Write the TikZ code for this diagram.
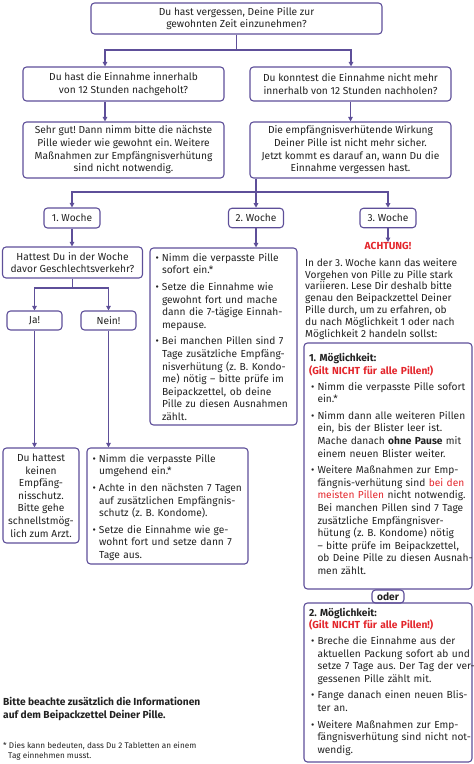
\documentclass[tikz,border=0pt]{standalone}
\usepackage{fontspec}
\setmainfont{Fira Sans}
\usetikzlibrary{arrows.meta,calc}
\definecolor{vio}{HTML}{5E4F99}
\definecolor{achred}{HTML}{E3262C}
\definecolor{txt}{HTML}{222222}
\newlength\bulind
\newcommand\bul[2][3pt]{\par\vspace{#1}\noindent\hspace*{\bulind}\makebox[6.5pt][l]{\textbullet}\begin{tabular}[t]{@{}l@{}}#2\end{tabular}\par}
\newcommand\rd[1]{\textcolor{achred}{#1}}
\frenchspacing
\begin{document}
\begin{tikzpicture}[x=1pt,y=-1pt,
  every node/.style={text=txt,font=\fontsize{10.2}{12.6}\selectfont\frenchspacing},
  box/.style={draw=vio,line width=1.1pt,rounded corners=3.5pt,inner sep=0pt,align=center},
  bbox/.style={box,align=left,inner xsep=5.5pt,inner ysep=0pt},
  conn/.style={draw=vio,line width=1.1pt,-{Triangle[length=4.5pt,width=4.5pt]}}]
\useasboundingbox (0,0) rectangle (474,764);

\node[box,minimum width=291,minimum height=31] (top) at (236.5,18.5) {Du hast vergessen, Deine Pille zur\\gewohnten Zeit einzunehmen?};
\node[box,minimum width=201,minimum height=34] (L2) at (123.5,84) {Du hast die Einnahme innerhalb\\von 12 Stunden nachgeholt?};
\node[box,minimum width=201,minimum height=34] (R2) at (350.5,84) {Du konntest die Einnahme nicht mehr\\innerhalb von 12 Stunden nachholen?};
\node[box,minimum width=201,minimum height=56] (L3) at (123.5,150) {Sehr gut! Dann nimm bitte die nächste\\Pille wieder wie gewohnt ein. Weitere\\Maßnahmen zur Empfängnisverhütung\\sind nicht notwendig.};
\node[box,minimum width=201,minimum height=56] (R3) at (350.5,150) {Die empfängnisverhütende Wirkung\\Deiner Pille ist nicht mehr sicher.\\Jetzt kommt es darauf an, wann Du die\\Einnahme vergessen hast.};

\node[box,minimum width=56,minimum height=20] (w1) at (72,218) {1. Woche};
\node[box,minimum width=55,minimum height=19.5] (w2) at (256,218) {2. Woche};
\node[box,minimum width=56,minimum height=19.5] (w3) at (388,218) {3. Woche};

\node[box,minimum width=140,minimum height=31] (hat) at (72.5,262.5) {Hattest Du in der Woche\\davor Geschlechtsverkehr?};
\node[box,minimum width=55,minimum height=19] (ja) at (34.5,320.5) {Ja!};
\node[box,minimum width=55,minimum height=19] (nein) at (108.5,320.5) {Nein!};

\node[box,minimum width=76,minimum height=95] (du) at (41,495.5) {Du hattest\\keinen\\Empfäng-\\nisschutz.\\Bitte gehe\\schnellstmög-\\lich zum Arzt.};

\node[bbox,text width=150,minimum height=116] (nb) at (167.5,506) {%
\bul[0pt]{Nimm die verpasste Pille\\umgehend ein.*}%
\bul{Achte in den nächsten 7 Tagen\\auf zusätzlichen Empfängnis-\\schutz (z. B. Kondome).}%
\bul{Setze die Einnahme wie ge-\\wohnt fort und setze dann 7\\Tage aus.}};

\node[bbox,text width=136,minimum height=177] (b2) at (223.5,336.5) {%
\bul[0pt]{Nimm die verpasste Pille\\sofort ein.*}%
\bul{Setze die Einnahme wie\\gewohnt fort und mache\\dann die 7-tägige Einnah-\\mepause.}%
\bul{Bei manchen Pillen sind 7\\Tage zusätzliche Empfäng-\\nisverhütung (z. B. Kondo-\\me) nötig – bitte prüfe im\\Beipackzettel, ob deine\\Pille zu diesen Ausnahmen\\zählt.}};

\node[font=\fontsize{10.2}{12.6}\selectfont\bfseries,text=achred,inner sep=0pt] (ach) at (388,246) {ACHTUNG!};
\node[anchor=north west,align=left,inner sep=0pt,font=\fontsize{10.2}{11.9}\selectfont\frenchspacing] (p3) at (305,258) {In der 3. Woche kann das weitere\\Vorgehen von Pille zu Pille stark\\variieren. Lese Dir deshalb bitte\\genau den Beipackzettel Deiner\\Pille durch, um zu erfahren, ob\\du nach Möglichkeit 1 oder nach\\Möglichkeit 2 handeln sollst:};

\node[bbox,inner xsep=5pt,text width=158,minimum height=246] (m1) at (388,466) {\setlength\bulind{2pt}%
\textbf{1. Möglichkeit:}\\\rd{\textbf{(Gilt NICHT für alle Pillen!)}}%
\bul{Nimm die verpasste Pille sofort\\ein.*}%
\bul{Nimm dann alle weiteren Pillen\\ein, bis der Blister leer ist.\\Mache danach \textbf{ohne Pause} mit\\einem neuen Blister weiter.}%
\bul{Weitere Maßnahmen zur Emp-\\fängnis-verhütung sind \rd{bei den}\\\rd{meisten Pillen} nicht notwendig.\\Bei manchen Pillen sind 7 Tage\\zusätzliche Empfängnisver-\\hütung (z. B. Kondome) nötig\\– bitte prüfe im Beipackzettel,\\ob Deine Pille zu diesen Ausnah-\\men zählt.}};

\node[box,minimum width=32,minimum height=13,font=\fontsize{10.2}{12.6}\selectfont\bfseries] (oder) at (388,596.5) {oder};

\node[bbox,inner xsep=5pt,text width=158,minimum height=159] (m2) at (388,682.5) {\setlength\bulind{2pt}%
\textbf{2. Möglichkeit:}\\\rd{\textbf{(Gilt NICHT für alle Pillen!)}}%
\bul{Breche die Einnahme aus der\\aktuellen Packung sofort ab und\\setze 7 Tage aus. Der Tag der ver-\\gessenen Pille zählt mit.}%
\bul{Fange danach einen neuen Blis-\\ter an.}%
\bul{Weitere Maßnahmen zur Emp-\\fängnisverhütung sind nicht not-\\wendig.}};

\node[anchor=north west,align=left,inner sep=0pt,font=\fontsize{10.2}{13.5}\selectfont\bfseries] (note) at (3,697) {Bitte beachte zusätzlich die Informationen\\auf dem Beipackzettel Deiner Pille.};
\node[anchor=north west,align=left,inner sep=0pt,font=\fontsize{8.2}{10}\selectfont] (fn) at (3,742) {* Dies kann bedeuten, dass Du 2 Tabletten an einem\\\hspace*{5pt}Tag einnehmen musst.};

\coordinate (jL) at (105,50);
\coordinate (jR) at (351,50);
\coordinate (jW) at (256,192);
\coordinate (jH) at (72,288);
\draw[conn] (top.south) |- (jL) -- (jL |- L2.north);
\draw[conn] (top.south) |- (jR) -- (jR |- R2.north);
\draw[conn] (jL |- L2.south) -- (jL |- L3.north);
\draw[conn] (R2.south) -- (R3.north);
\draw[conn] (R3.south -| jW) -- (w2.north);
\draw[conn] (R3.south -| jW) |- (w1.north |- jW) -- (w1.north);
\draw[conn] (R3.south -| jW) |- (w3.north |- jW) -- (w3.north);
\draw[conn] (w1.south) -- (w1.south |- hat.north);
\draw[conn] (hat.south) |- (ja.north |- jH) -- (ja.north);
\draw[conn] (hat.south) |- (nein.north |- jH) -- (nein.north);
\draw[conn] (ja.south) -- (ja.south |- du.north);
\draw[conn] (nein.south) -- (nein.south |- nb.north);
\draw[conn] (w2.south) -- (w2.south |- b2.north);
\draw[conn] (w3.south) -- (ach.north);
\end{tikzpicture}
\end{document}
